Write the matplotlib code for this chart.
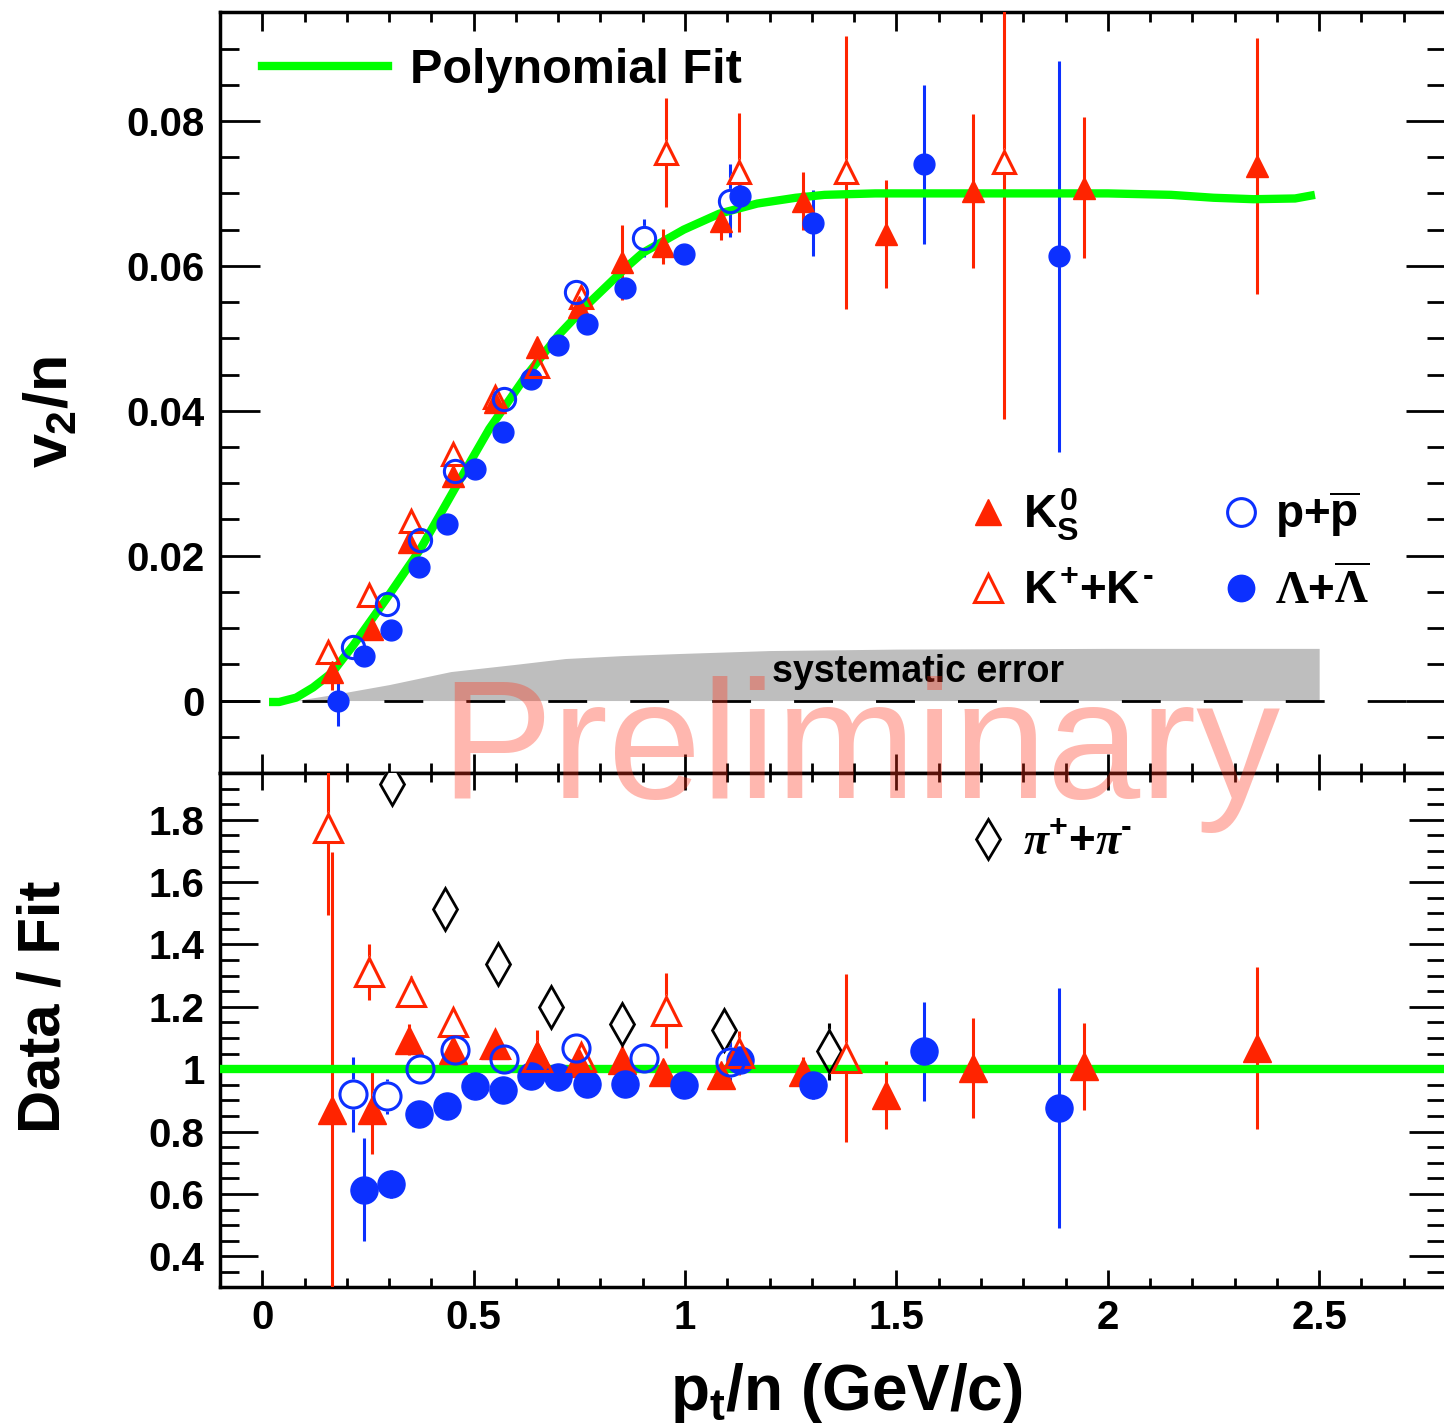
import matplotlib
matplotlib.use("Agg")
import matplotlib.pyplot as plt
from matplotlib.lines import Line2D
from matplotlib.ticker import MultipleLocator, FuncFormatter

plt.rcParams['font.family'] = ['Liberation Sans', 'DejaVu Sans']
plt.rcParams['font.weight'] = 'bold'
plt.rcParams['axes.labelweight'] = 'bold'
plt.rcParams['mathtext.fontset'] = 'custom'
plt.rcParams['mathtext.rm'] = 'Liberation Sans:bold'
plt.rcParams['mathtext.it'] = 'Liberation Sans:bold'
plt.rcParams['mathtext.bf'] = 'Liberation Sans:bold'
plt.rcParams['mathtext.cal'] = 'Liberation Serif'
plt.rcParams['mathtext.sf'] = 'Liberation Serif:italic'

RED = '#ff2400'
BLUE = '#0c30ff'
GREEN = '#00ff00'

# K0s (filled triangles)
k0s_x = [0.166, 0.260, 0.347, 0.451, 0.551, 0.651, 0.750, 0.852, 0.949, 1.085, 1.280, 1.475, 1.680, 1.943, 2.352]
k0s_v2 = [0.0040, 0.0099, 0.0219, 0.0310, 0.0412, 0.0488, 0.0543, 0.0605, 0.0627, 0.0662, 0.0690, 0.0644, 0.0703, 0.0708, 0.0738]
k0s_err = [0.0025, 0.0012, 0.0010, 0.0010, 0.0010, 0.0012, 0.0015, 0.0052, 0.0024, 0.0027, 0.0040, 0.0074, 0.0106, 0.0097, 0.0177]
k0s_ratio = [0.868, 0.868, 1.095, 1.063, 1.079, 1.047, 1.02, 1.03, 0.99, 0.98, 0.99, 0.917, 1.003, 1.009, 1.068]
k0s_ratio_err = [0.83, 0.14, 0.05, 0.02, 0.04, 0.08, 0.03, 0.06, 0.03, 0.03, 0.05, 0.11, 0.16, 0.14, 0.26]

# K+ + K- (open triangles)
kch_x = [0.155, 0.252, 0.351, 0.451, 0.551, 0.651, 0.753, 0.954, 1.128, 1.380, 1.754]
kch_v2 = [0.0067, 0.0145, 0.0248, 0.0340, 0.0419, 0.0462, 0.0557, 0.0756, 0.0729, 0.0729, 0.0743]
kch_err = [0.001, 0.001, 0.001, 0.001, 0.001, 0.001, 0.001, 0.0075, 0.0082, 0.0188, 0.0355]
kch_ratio_x = [0.155, 0.252, 0.351, 0.451, 0.551, 0.651, 0.753, 0.954, 1.128, 1.380]
kch_ratio = [1.773, 1.313, 1.248, 1.15, 1.08, 1.04, 1.04, 1.188, 1.052, 1.036]
kch_ratio_err = [0.28, 0.09, 0.05, 0.02, 0.02, 0.02, 0.02, 0.12, 0.07, 0.27]

# p + pbar (open circles)
p_x = [0.215, 0.294, 0.374, 0.455, 0.571, 0.741, 0.904, 1.106]
p_v2 = [0.0074, 0.0133, 0.0221, 0.0317, 0.0416, 0.0564, 0.0638, 0.0690]
p_err = [0.0008, 0.0008, 0.0008, 0.0008, 0.001, 0.001, 0.0026, 0.005]
p_ratio = [0.92, 0.913, 1.0, 1.063, 1.033, 1.068, 1.036, 1.022]
p_ratio_err = [0.12, 0.055, 0.02, 0.02, 0.02, 0.02, 0.04, 0.07]

# Lambda + Lambdabar (filled circles)
lam_x = [0.179, 0.241, 0.304, 0.371, 0.437, 0.503, 0.569, 0.635, 0.700, 0.768, 0.859, 0.997, 1.131, 1.303, 1.566, 1.884]
lam_v2 = [0.0, 0.0062, 0.0098, 0.0184, 0.0244, 0.0320, 0.0371, 0.0444, 0.0491, 0.0520, 0.0570, 0.0616, 0.0697, 0.0659, 0.0740, 0.0613]
lam_err = [0.0035, 0.001, 0.001, 0.0008, 0.0008, 0.0008, 0.0008, 0.0008, 0.0008, 0.0008, 0.001, 0.0012, 0.0015, 0.0046, 0.011, 0.027]
lam_ratio_x = [0.241, 0.304, 0.371, 0.437, 0.503, 0.569, 0.635, 0.700, 0.768, 0.859, 0.997, 1.131, 1.303, 1.566, 1.884]
lam_ratio = [0.613, 0.632, 0.857, 0.881, 0.947, 0.933, 0.979, 0.974, 0.952, 0.954, 0.951, 1.028, 0.949, 1.057, 0.876]
lam_ratio_err = [0.165, 0.045, 0.02, 0.02, 0.02, 0.02, 0.02, 0.02, 0.02, 0.02, 0.02, 0.03, 0.045, 0.16, 0.385]

# pi+ + pi- (open diamonds, ratio only)
pi_x = [0.306, 0.433, 0.558, 0.682, 0.852, 1.093, 1.341]
pi_ratio = [1.915, 1.513, 1.336, 1.199, 1.144, 1.126, 1.057]
pi_ratio_err = [0.0, 0.0, 0.0, 0.0, 0.0, 0.0, 0.09]

# polynomial fit curve
fit_x = [0.016, 0.04, 0.08, 0.12, 0.166, 0.215, 0.293, 0.374, 0.455, 0.537, 0.619, 0.70, 0.768, 0.859, 0.90,
         0.997, 1.081, 1.171, 1.262, 1.33, 1.45, 1.6, 1.8, 2.0, 2.15, 2.25, 2.345, 2.443, 2.49]
fit_v2 = [-0.0002, -0.0002, 0.0004, 0.0018, 0.0039, 0.0076, 0.0140, 0.0209, 0.0292, 0.0375, 0.0444, 0.0504, 0.0546,
          0.0597, 0.0618, 0.0650, 0.0672, 0.0686, 0.0694, 0.0698, 0.0700, 0.0700, 0.0700, 0.0700, 0.0698, 0.0694,
          0.0692, 0.0693, 0.0698]

# systematic error band
sys_x = [0.08, 0.175, 0.30, 0.446, 0.60, 0.717, 0.85, 0.99, 1.2, 1.5, 2.0, 2.5]
sys_hi = [0.0, 0.0009, 0.0022, 0.0040, 0.0050, 0.0058, 0.0062, 0.0065, 0.0069, 0.0071, 0.0072, 0.0072]

HY = '\u2010'  # short hyphen for the negative charge superscript


def draw_series(ax, x, y, err, color, marker, ms, filled, mew=2.2):
    ax.errorbar(x, y, yerr=err, fmt='none', ecolor=color, elinewidth=2.2, capsize=0, zorder=3)
    if filled:
        ax.plot(x, y, ls='none', marker=marker, ms=ms, color=color, mec=color, zorder=6)
    else:
        # white mask so the error bar does not run through the open marker
        ax.plot(x, y, ls='none', marker=marker, ms=ms, mfc='white', mec='white', mew=mew, zorder=4)
        ax.plot(x, y, ls='none', marker=marker, ms=ms, mfc='none', mec=color, mew=mew, zorder=7)


fig = plt.figure(figsize=(14.44, 14.27), dpi=100)
ax_top = fig.add_axes([0.15235, 0.45831, 0.84903, 0.53308])
ax_bot = fig.add_axes([0.15235, 0.09776, 0.84903, 0.36055])

# ---- top panel: v2/n ----
ax_top.fill_between(sys_x, 0, sys_hi, color='#bebebe', lw=0, zorder=1)
ax_top.axhline(0, color='black', lw=2, dashes=(14, 15.5), zorder=2)
ax_top.plot(fit_x, fit_v2, color=GREEN, lw=6, solid_capstyle='butt', zorder=5)

draw_series(ax_top, kch_x, kch_v2, kch_err, RED, '^', 16, False)
draw_series(ax_top, p_x, p_v2, p_err, BLUE, 'o', 16, False)
draw_series(ax_top, k0s_x, k0s_v2, k0s_err, RED, '^', 16, True)
draw_series(ax_top, lam_x, lam_v2, lam_err, BLUE, 'o', 15, True)

ax_top.text(1.205, 0.004, 'systematic error', fontsize=27, va='center', ha='left', zorder=8)

ax_top.set_xlim(-0.1, 2.8)
ax_top.set_ylim(-0.01, 0.095)
ax_top.xaxis.set_major_locator(MultipleLocator(0.5))
ax_top.xaxis.set_minor_locator(MultipleLocator(0.1))
ax_top.yaxis.set_major_locator(MultipleLocator(0.02))
ax_top.yaxis.set_minor_locator(MultipleLocator(0.005))
ax_top.yaxis.set_major_formatter(FuncFormatter(lambda v, p: '%g' % round(v, 6)))
ax_top.tick_params(axis='x', which='both', direction='in', top=True, bottom=True, labelbottom=False, width=2)
ax_top.tick_params(axis='x', which='major', length=14)
ax_top.tick_params(axis='x', which='minor', length=7)
ax_top.tick_params(axis='y', which='both', direction='in', left=True, right=True, width=2, labelsize=29, pad=11)
ax_top.tick_params(axis='y', which='major', length=29)
ax_top.tick_params(axis='y', which='minor', length=14)
ax_top.set_ylabel(r'$v_2/n$', fontsize=44)
ax_top.yaxis.set_label_coords(-0.137, 0.4746)
ax_top.yaxis.label.set_va('center')

fit_handle = Line2D([], [], color=GREEN, lw=6)
leg_fit = ax_top.legend([fit_handle], ['Polynomial Fit'], loc='center left', bbox_to_anchor=(0.034, 0.924),
                        frameon=False, fontsize=35, handlelength=2.6, handletextpad=0.45,
                        borderpad=0, borderaxespad=0)
ax_top.add_artist(leg_fit)

part_handles = [
    Line2D([], [], ls='none', marker='^', ms=19, color=RED),
    Line2D([], [], ls='none', marker='^', ms=20, mfc='none', mec=RED, mew=2.2),
    Line2D([], [], ls='none', marker='o', ms=20, mfc='none', mec=BLUE, mew=2.2),
    Line2D([], [], ls='none', marker='o', ms=19, color=BLUE),
]
part_labels = [r'$K_S^0$', r'$K^{+}$+$K^{' + HY + '}$', r'p+$\overline{p}$',
               r'$\mathcal{\Lambda}$+$\overline{\mathcal{\Lambda}}$']
ax_top.legend(part_handles, part_labels, ncols=2, loc='center left', bbox_to_anchor=(0.6117, 0.2925),
              frameon=False, fontsize=33, handlelength=0.8, handletextpad=0.35, columnspacing=1.52,
              labelspacing=0.6, borderpad=0, borderaxespad=0)

# ---- bottom panel: Data / Fit ----
ax_bot.axhline(1, color=GREEN, lw=6, zorder=5)
draw_series(ax_bot, pi_x, pi_ratio, pi_ratio_err, 'black', 'd', 21, False, mew=2)
draw_series(ax_bot, kch_ratio_x, kch_ratio, kch_ratio_err, RED, '^', 20, False)
draw_series(ax_bot, p_x, p_ratio, p_ratio_err, BLUE, 'o', 19.5, False)
draw_series(ax_bot, k0s_x, k0s_ratio, k0s_ratio_err, RED, '^', 19.5, True)
draw_series(ax_bot, lam_ratio_x, lam_ratio, lam_ratio_err, BLUE, 'o', 19.5, True)

ax_bot.set_xlim(-0.1, 2.8)
ax_bot.set_ylim(0.3, 1.95)
ax_bot.xaxis.set_major_locator(MultipleLocator(0.5))
ax_bot.xaxis.set_minor_locator(MultipleLocator(0.1))
ax_bot.yaxis.set_major_locator(MultipleLocator(0.2))
ax_bot.yaxis.set_minor_locator(MultipleLocator(0.05))
fmt = FuncFormatter(lambda v, p: '%g' % round(v, 6))
ax_bot.xaxis.set_major_formatter(fmt)
ax_bot.yaxis.set_major_formatter(fmt)
ax_bot.tick_params(axis='x', which='both', direction='in', top=True, bottom=True, width=2, labelsize=29, pad=8)
ax_bot.tick_params(axis='x', which='major', length=12)
ax_bot.tick_params(axis='x', which='minor', length=6.5)
ax_bot.tick_params(axis='y', which='both', direction='in', left=True, right=True, width=2, labelsize=29, pad=11)
ax_bot.tick_params(axis='y', which='major', length=27)
ax_bot.tick_params(axis='y', which='minor', length=14)
ax_bot.set_ylabel('Data / Fit', fontsize=43)
ax_bot.yaxis.set_label_coords(-0.1436, 0.5452)
ax_bot.yaxis.label.set_va('center')
ax_bot.set_xlabel(r'$p_t$/n (GeV/c)', fontsize=46)
ax_bot.xaxis.set_label_coords(0.5106, -0.205)
ax_bot.xaxis.label.set_va('center')

pi_handle = Line2D([], [], ls='none', marker='d', ms=20, mfc='none', mec='black', mew=2)
ax_bot.legend([pi_handle], [r'$\mathsf{\pi}^{+}$+$\mathsf{\pi}^{' + HY + '}$'], loc='center left',
              bbox_to_anchor=(0.6117, 0.864), frameon=False, fontsize=33, handlelength=0.8,
              handletextpad=0.35, borderpad=0, borderaxespad=0)

for ax in (ax_top, ax_bot):
    for sp in ax.spines.values():
        sp.set_linewidth(2.5)

fig.text(440 / 1444, 1 - 798 / 1427, 'Preliminary', fontsize=121, fontweight='normal',
         color=(1.0, 0.2, 0.1), alpha=0.35, ha='left', va='baseline', zorder=10)

fig.savefig('out.png', dpi=100)
